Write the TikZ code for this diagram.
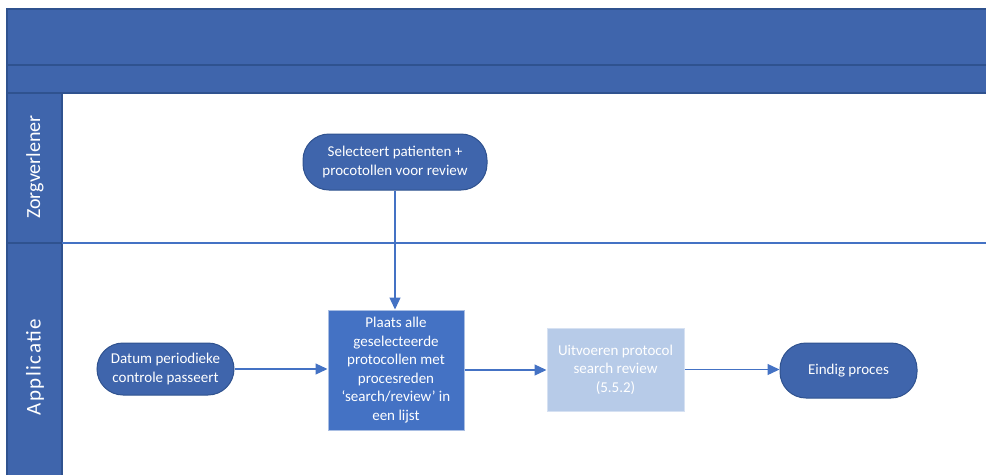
\documentclass[tikz,border=0pt]{standalone}
\usepackage{fontspec}
\setmainfont{Carlito}
\usetikzlibrary{arrows.meta,positioning}

\definecolor{poolblue}{HTML}{3F65AC}
\definecolor{pooledge}{HTML}{2F528F}
\definecolor{stepblue}{HTML}{4472C4}
\definecolor{stepedge}{HTML}{A9BEE3}
\definecolor{paleblue}{HTML}{B7CBE8}
\definecolor{paleedge}{HTML}{D6E1F2}

\begin{document}
\begin{tikzpicture}[x=1pt,y=-1pt,
    pill/.style={draw=pooledge, fill=poolblue, rounded corners=26pt,
        text=white, align=center, font=\fontsize{15}{18.6}\selectfont, line width=1pt},
    stepbox/.style={draw=stepedge, fill=stepblue, text=white, align=center,
        font=\fontsize{15}{18.6}\selectfont, line width=1pt},
    palebox/.style={draw=paleedge, fill=paleblue, text=white, align=center,
        font=\fontsize{15}{18.6}\selectfont, line width=1pt},
    lanetext/.style={rotate=90, text=white, font=\fontsize{20}{24}\selectfont},
    flow/.style={draw=stepblue, line width=1.3pt, -{Triangle[length=12pt,width=11pt]}}]
    \useasboundingbox (0,0) rectangle (986,475);

    % pool header and lane column
    \fill[poolblue] (7,9) rectangle (986,93);
    \fill[poolblue] (7,93) rectangle (62,475);
    \draw[pooledge, line width=1.2pt] (7,475) -- (7,9) -- (986,9);
    \draw[pooledge, line width=1.2pt] (7,65) -- (986,65);
    \draw[pooledge, line width=1.2pt] (7,93) -- (986,93);
    \draw[pooledge, line width=1.2pt] (7,243) -- (62,243);
    \draw[pooledge, line width=1.2pt] (62,93) -- (62,475);
    \draw[stepblue, line width=1.2pt] (62,243) -- (986,243);

    \node[lanetext] (zorg) at (35,167) {Zorgverlener};
    \node[lanetext, font=\fontsize{21}{24}\selectfont\addfontfeature{LetterSpace=7}] (app) at (35,367) {Applicatie};

    % steps
    \node[pill, minimum width=184pt, minimum height=56pt] (select) at (395,162)
        {Selecteert patienten +\\procotollen voor review};
    \node[pill, minimum width=137pt, minimum height=52pt] (datum) at (165.5,369)
        {Datum periodieke\\controle passeert};
    \node[stepbox, minimum width=136pt, minimum height=120pt] (plaats) at (396,370)
        {Plaats alle\\geselecteerde\\protocollen met\\procesreden\\‘search/review’ in\\een lijst};
    \node[palebox, minimum width=137pt, minimum height=83pt] (uitvoer) at (615.5,369.5)
        {Uitvoeren protocol\\search review\\(5.5.2)};
    \node[pill, minimum width=137pt, minimum height=55pt] (eindig) at (848.5,370.5)
        {Eindig proces};

    \draw[flow] (select.south) -- (select.south |- plaats.north);
    \draw[flow] (datum.east) -- (datum.east -| plaats.west);
    \draw[flow] (plaats.east) -- (plaats.east -| uitvoer.west);
    \draw[flow] (uitvoer.east) -- (uitvoer.east -| eindig.west);
\end{tikzpicture}
\end{document}
